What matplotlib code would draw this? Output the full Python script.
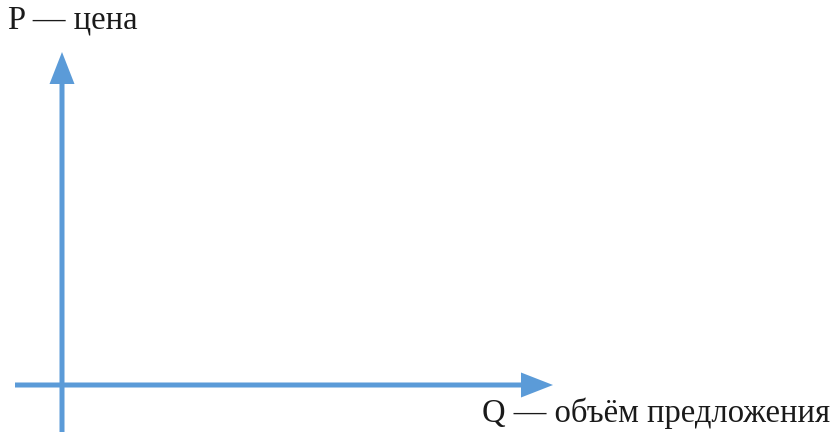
import matplotlib
matplotlib.use("Agg")
import matplotlib.pyplot as plt

# Axis labels of the blank supply chart
y_label = "P — цена"
x_label = "Q — объём предложения"

# Canvas in pixels (834 x 434 figure)
W, H = 834, 434
AXIS_COLOR = "#5b9bd8"

fig = plt.figure(figsize=(8.34, 4.34), dpi=100)
ax = fig.add_axes([0, 0, 1, 1])
ax.set_xlim(0, W)
ax.set_ylim(H, 0)
ax.axis("off")

arrow_kw = dict(width=5, head_width=25, head_length=32,
                length_includes_head=True, color=AXIS_COLOR, lw=0)

# Vertical (price) axis: from below the origin up to the tip
ax.arrow(62, 432, 0, 52 - 432, **arrow_kw)
# Horizontal (quantity) axis
ax.arrow(15, 385, 553 - 15, 0, **arrow_kw)

ax.text(8, 20, y_label, fontsize=23.5, family="Liberation Serif",
        ha="left", va="center", color="#1a1a1a")
ax.text(830, 413, x_label, fontsize=23.5, family="Liberation Serif",
        ha="right", va="center", color="#1a1a1a")

fig.savefig("out.png", dpi=100)
